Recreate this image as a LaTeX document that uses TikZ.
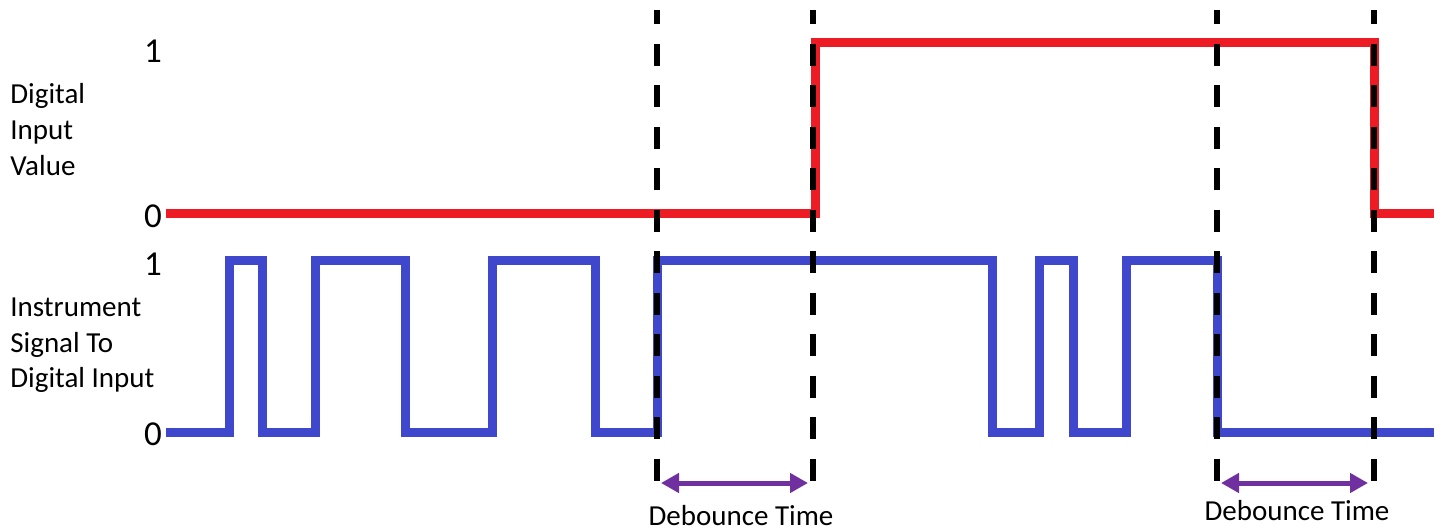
\documentclass[tikz,border=0pt]{standalone}
\usepackage{fontspec}
\setmainfont{Carlito}
\usetikzlibrary{arrows.meta}

\definecolor{sigred}{HTML}{ED1C24}
\definecolor{sigblue}{HTML}{3F48CC}
\definecolor{spanpurple}{HTML}{7030A0}

\tikzset{
  axislabel/.style={inner sep=0pt, anchor=base west, font=\fontsize{14.5}{17.5}\selectfont},
  levellabel/.style={inner sep=0pt, anchor=base, font=\fontsize{17.5}{21}\selectfont},
  spanlabel/.style={inner sep=0pt, anchor=base, font=\fontsize{14.5}{17.5}\selectfont},
  wave/.style={line width=4.5pt, line cap=butt, line join=miter},
  redwave/.style={wave, draw=sigred},
  bluewave/.style={wave, draw=sigblue},
  marker/.style={draw=black, line width=2.6pt, dash pattern=on 11pt off 9.75pt, dash phase=4pt},
  span/.style={draw=spanpurple, line width=2.5pt, {Triangle[length=9pt,width=9.5pt]}-{Triangle[length=9pt,width=9.5pt]}}
}

\begin{document}
\begin{tikzpicture}[x=0.5pt, y=-0.5pt]
  \useasboundingbox (0,0) rectangle (1441,530);

  % axis captions
  \node[axislabel] (dv1) at (10,103) {Digital};
  \node[axislabel] (dv2) at (10,139) {Input};
  \node[axislabel] (dv3) at (10,175) {Value};
  \node[axislabel] (is1) at (10,316) {Instrument};
  \node[axislabel] (is2) at (10,352) {Signal To};
  \node[axislabel] (is3) at (10,387) {Digital Input};

  % logic levels
  \node[levellabel] (dvhi) at (153,62) {1};
  \node[levellabel] (dvlo) at (153,227) {0};
  \node[levellabel] (ishi) at (153,275) {1};
  \node[levellabel] (islo) at (153,445) {0};

  % debounced digital input value
  \draw[redwave] (166,213) -- (815,213) -- (815,42) -- (1374,42) -- (1374,213) -- (1434,213);

  % bouncing instrument signal
  \draw[bluewave] (166,432) -- (229,432) -- (229,260) -- (262,260) -- (262,432)
    -- (315,432) -- (315,260) -- (405,260) -- (405,432)
    -- (492,432) -- (492,260) -- (595,260) -- (595,432)
    -- (657,432) -- (657,260) -- (992,260) -- (992,432)
    -- (1039,432) -- (1039,260) -- (1073,260) -- (1073,432)
    -- (1126,432) -- (1126,260) -- (1217,260) -- (1217,432) -- (1434,432);

  % time markers
  \coordinate (m1t) at (657,10);  \coordinate (m1b) at (657,487);
  \coordinate (m2t) at (813,10);  \coordinate (m2b) at (813,487);
  \coordinate (m3t) at (1217,10); \coordinate (m3b) at (1217,487);
  \coordinate (m4t) at (1374,10); \coordinate (m4b) at (1374,487);
  \draw[marker] (m1t) -- (m1b);
  \draw[marker] (m2t) -- (m2b);
  \draw[marker] (m3t) -- (m3b);
  \draw[marker] (m4t) -- (m4b);

  % debounce intervals
  \coordinate (s1l) at (661,483);  \coordinate (s1r) at (808,483);
  \coordinate (s2l) at (1221,483); \coordinate (s2r) at (1368,483);
  \draw[span] (s1l) -- (s1r);
  \draw[span] (s2l) -- (s2r);
  \node[spanlabel] (d1) at (741,525) {Debounce Time};
  \node[spanlabel] (d2) at (1297,520) {Debounce Time};
\end{tikzpicture}
\end{document}
